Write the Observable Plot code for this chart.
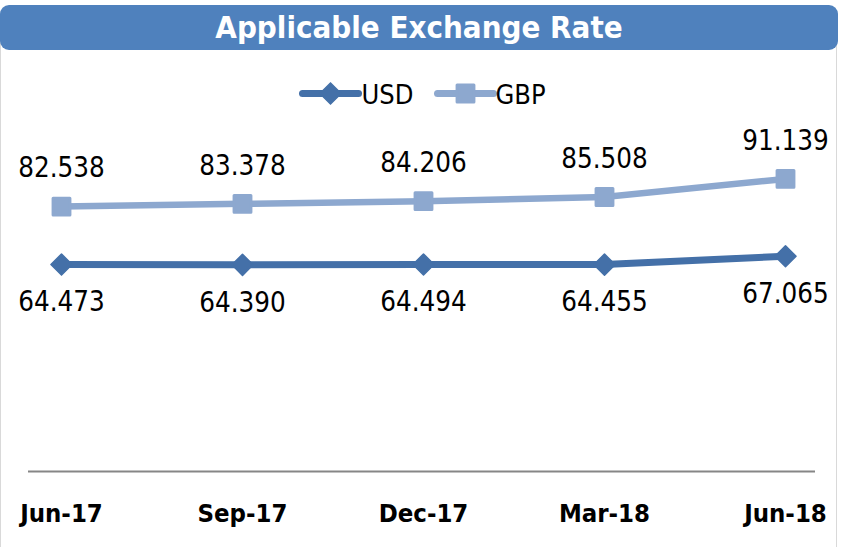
<!DOCTYPE html>
<html><head><meta charset="utf-8">
<script src="https://cdn.jsdelivr.net/npm/d3@7"></script>
<script src="https://cdn.jsdelivr.net/npm/@observablehq/plot@0.6"></script>
<style>
html,body{margin:0;padding:0;background:#fff;}
#wrap{position:relative;width:841px;height:547px;padding-top:5px;box-sizing:border-box;font-family:"DejaVu Sans Condensed","Liberation Sans Narrow",sans-serif;}
.side{position:absolute;top:20px;width:1px;height:527px;background:#d9d9d9;}
#title{position:relative;width:838px;height:45px;background:#4F81BD;border-radius:9px;color:#fff;font-weight:bold;font-size:31px;text-align:center;line-height:45px;}
#legend svg,#chart svg{display:block;position:relative;}
</style></head>
<body><div id="wrap"><div class="side" style="left:0"></div><div class="side" style="left:836px"></div><div id="title">Applicable Exchange Rate</div><div id="legend"></div><div id="chart"></div></div>
<script>
const categories = ["Jun-17","Sep-17","Dec-17","Mar-18","Jun-18"];
const usd = [64.473, 64.390, 64.494, 64.455, 67.065];
const gbp = [82.538, 83.378, 84.206, 85.508, 91.139];
const seriesNames = ["USD","GBP"];
const colors = {USD:"#4470A8", GBP:"#8DA8CF"};

const usdData = categories.map((c,i)=>({cat:c, v:usd[i], s:"USD"}));
const gbpData = categories.map((c,i)=>({cat:c, v:gbp[i], s:"GBP"}));
const fmt = d3.format(".3f");
const font = '"DejaVu Sans Condensed","Liberation Sans Narrow",sans-serif';

// legend built with Plot marks (70px tall band between title and plot)
const legData = seriesNames.map((s,i)=>({s, x0:[302,437][i], tx:[361,495][i]}));
const leg = Plot.plot({
  width: 841, height: 70, margin: 0,
  x: {type:"identity", axis:null}, y: {type:"identity", axis:null},
  style: {fontFamily: font, background:"transparent"},
  marks: [
    Plot.link(legData, {x1:"x0", x2:d=>d.x0+56, y1:43, y2:43, stroke:d=>colors[d.s], strokeWidth:7, strokeLinecap:"round"}),
    Plot.dot(legData.filter(d=>d.s==="USD"), {x:d=>d.x0+28, y:43, symbol:"diamond2", r:9.5, fill:colors.USD, stroke:colors.USD, strokeWidth:1.5}),
    Plot.dot(legData.filter(d=>d.s==="GBP"), {x:d=>d.x0+28, y:43, symbol:"square", r:9.5, fill:colors.GBP, stroke:colors.GBP, strokeWidth:3, strokeLinejoin:"round"}),
    Plot.text(legData, {x:"tx", y:45, text:"s", textAnchor:"start", fontSize:27, fill:"#000", lineAnchor:"middle"})
  ]
});
document.getElementById("legend").appendChild(leg);

const plot = Plot.plot({
  width: 841, height: 427,
  marginLeft: 60, marginRight: 55, marginTop: 30, marginBottom: 76,
  x: {type:"point", domain: categories, padding: 0},
  y: {domain:[0,100], axis:null},
  style: {fontFamily: font, background:"transparent"},
  marks: [
    Plot.ruleY([0], {stroke:"#868686", strokeWidth:2, insetLeft:-32, insetRight:-29}),
    Plot.axisX({tickSize:0, tickPadding:32, fontSize:25.5, fontWeight:"bold", fill:"#000", label:null}),
    Plot.line(gbpData, {x:"cat", y:"v", stroke:colors.GBP, strokeWidth:6.5}),
    Plot.line(usdData, {x:"cat", y:"v", stroke:colors.USD, strokeWidth:7}),
    Plot.dot(gbpData, {x:"cat", y:"v", symbol:"square", r:9.5, fill:colors.GBP, stroke:colors.GBP, strokeWidth:3, strokeLinejoin:"round"}),
    Plot.dot(usdData, {x:"cat", y:"v", symbol:"diamond2", r:9.5, fill:colors.USD, stroke:colors.USD, strokeWidth:1.5, strokeLinejoin:"round"}),
    Plot.text(gbpData, {x:"cat", y:"v", text:d=>fmt(d.v), dy:-38, fontSize:27.5, fill:"#000", lineAnchor:"middle"}),
    Plot.text(usdData, {x:"cat", y:"v", text:d=>fmt(d.v), dy:38, fontSize:27.5, fill:"#000", lineAnchor:"middle"})
  ]
});
document.getElementById("chart").appendChild(plot);
</script></body></html>
